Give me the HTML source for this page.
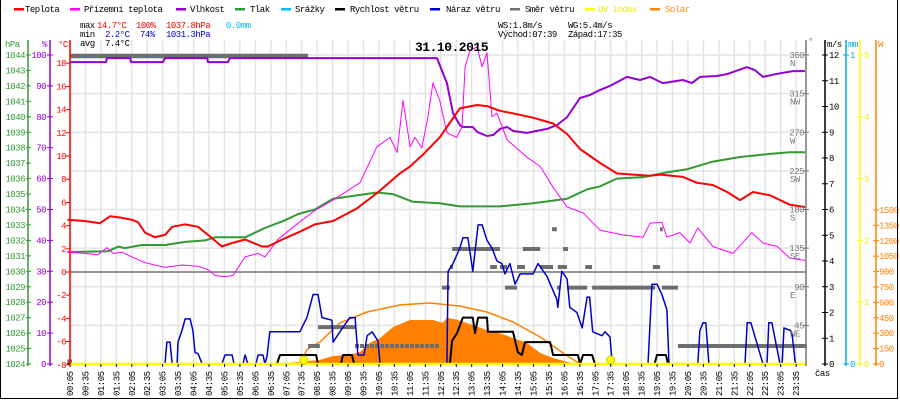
<!DOCTYPE html>
<html><head><meta charset="utf-8"><style>
html,body{margin:0;padding:0;background:#fff}
svg{display:block}
text{font-family:"Liberation Mono",monospace;font-size:9px;letter-spacing:-0.5px}
</style></head><body>
<svg id="chart" width="900" height="400" viewBox="0 0 900 400" xmlns="http://www.w3.org/2000/svg">
<rect x="0" y="0" width="900" height="400" fill="#fff"/>
<g id="grid"></g>
<g id="plot"></g>
<g id="axes"></g>
<g>
 <g><rect x="14" y="8" width="10" height="2.5" fill="#f00"/><text x="25" y="12">Teplota</text></g>
 <g><rect x="70" y="8" width="10" height="2.5" fill="#f0f"/><text x="84" y="12">Přízemní teplota</text></g>
 <g><rect x="176" y="8" width="10" height="2.5" fill="#90c"/><text x="190" y="12">Vlhkost</text></g>
 <g><rect x="235" y="8" width="10" height="2.5" fill="#393"/><text x="250" y="12">Tlak</text></g>
 <g><rect x="281" y="8" width="10" height="2.5" fill="#0bf"/><text x="295" y="12">Srážky</text></g>
 <g><rect x="335" y="8" width="10" height="2.5" fill="#000"/><text x="350" y="12">Rychlost větru</text></g>
 <g><rect x="430" y="8" width="10" height="2.5" fill="#00c"/><text x="446" y="12">Náraz větru</text></g>
 <g><rect x="510" y="8" width="10" height="2.5" fill="#707070"/><text x="525" y="12">Směr větru</text></g>
 <g><rect x="585" y="8" width="10" height="2.5" fill="#ff0"/><text x="598" y="12" fill="#ee0">UV index</text></g>
 <g><rect x="650" y="8" width="10" height="2.5" fill="#f80"/><text x="665" y="12" fill="#f80">Solar</text></g>
</g>
<g>
 <text x="80" y="28">max</text><text x="97" y="28" fill="#f00">14.7°C</text><text x="136" y="28" fill="#f00">100%</text><text x="166" y="28" fill="#f00">1037.8hPa</text><text x="226" y="28" fill="#0bf">0.0mm</text>
 <text x="80" y="37">min</text><text x="105" y="37" fill="#00c">2.2°C</text><text x="140" y="37" fill="#00c">74%</text><text x="166" y="37" fill="#00c">1031.3hPa</text>
 <text x="80" y="46">avg</text><text x="105" y="46">7.4°C</text>
 <text x="498" y="28">WS:1.8m/s</text><text x="568" y="28">WG:5.4m/s</text>
 <text x="498" y="37">Východ:07:39</text><text x="568" y="37">Západ:17:35</text>
</g>
<text x="415" y="51" style="font-size:13px;font-weight:bold;letter-spacing:-0.5px">31.10.2015</text>
<rect x="0.5" y="-1" width="897" height="399.5" fill="none" stroke="#000" stroke-width="1"/>
</svg>
<script>
const xTickLabels=["00:05","00:35","01:05","01:35","02:05","02:35","03:05","03:35","04:05","04:35","05:05","05:35","06:05","06:35","07:05","07:35","08:05","08:35","09:05","09:35","10:05","10:35","11:05","11:35","12:05","12:35","13:05","13:35","14:05","14:35","15:05","15:35","16:05","16:35","17:05","17:35","18:05","18:35","19:05","19:35","20:05","20:35","21:05","21:35","22:05","22:35","23:05","23:35"];
const tempHours=[0,0.57,1.05,1.38,1.7,2.09,2.28,2.51,2.83,3.16,3.39,3.81,4.23,4.55,5.0,5.33,5.75,6.3,6.49,6.95,7.46,8.01,8.6,9.38,10.02,10.76,11.09,11.5,12.05,12.28,12.7,13.26,13.58,14.0,14.55,15.07,15.72,16.17,16.59,17.24,17.78,18.3,18.85,19.18,19.92,20.37,20.89,21.35,21.77,22.19,22.74,23.38,23.87];
const tempValues=[4.5,4.4,4.2,4.8,4.7,4.5,4.3,3.4,3.0,3.2,3.9,4.1,3.9,3.2,2.2,2.5,2.8,2.2,2.2,2.8,3.4,4.1,4.4,5.5,6.8,8.5,9.1,10.1,11.6,12.5,14.1,14.4,14.3,13.9,13.6,13.3,12.8,11.9,10.6,9.4,8.5,8.4,8.3,8.4,8.2,7.7,7.5,6.9,6.2,6.9,6.6,5.8,5.6];
const feelHours=[0,0.57,0.99,1.28,1.48,1.77,2.09,2.51,3.16,3.71,4.23,4.55,4.78,5.1,5.36,5.75,6.17,6.39,6.81,7.46,8.01,8.6,9.47,10.02,10.44,10.67,10.86,11.09,11.25,11.47,11.67,11.83,12.05,12.28,12.6,12.77,12.87,13.03,13.26,13.42,13.58,13.74,13.9,14.23,14.87,15.3,15.72,16.17,16.69,17.24,17.98,18.63,18.85,19.24,19.4,19.82,20.15,20.4,20.89,21.54,22.15,22.51,22.97,23.38,23.87];
const feelValues=[1.7,1.6,1.5,2.1,1.6,1.7,1.3,0.8,0.4,0.6,0.5,0.2,-0.3,-0.4,-0.3,1.3,1.6,1.3,2.8,4.2,5.3,6.2,7.7,10.8,11.6,10.3,14.8,10.8,11.6,10.7,13.4,16.3,14.8,12.0,11.6,12.5,17.7,19.1,19.4,17.7,18.9,13.4,13.7,11.4,9.9,9.1,7.3,5.6,5.1,3.6,3.2,3.0,4.2,4.3,3.0,3.4,2.5,3.8,2.2,1.6,3.4,2.5,2.2,1.2,1.0];
const humHours=[0.08,1.25,1.28,2.03,2.06,3.09,3.16,4.52,4.55,5.2,5.26,11.96,12.28,12.48,12.7,12.8,13.12,13.26,13.58,13.78,14.0,14.23,14.43,14.87,15.52,15.84,16.17,16.59,16.92,17.24,17.56,18.11,18.53,18.85,19.27,19.92,20.21,20.47,21.02,21.38,21.99,22.25,22.51,22.97,23.48,23.87];
const humValues=[97.7,97.7,99.0,99.0,97.7,97.7,99.0,99.0,97.7,97.7,99.0,99.0,90.9,81.2,77.3,76.7,76.7,75.1,73.8,74.1,76.1,76.7,75.4,74.8,76.1,77.3,79.9,86.1,87.1,88.7,90.0,92.9,91.9,92.9,90.9,91.9,90.9,92.9,93.2,93.9,96.1,95.1,92.9,93.9,94.8,94.8];
const presHours=[0,1.32,1.64,1.86,2.41,3.16,3.81,4.46,4.78,5.75,6.39,7.04,7.46,8.01,8.6,10.02,10.53,11.18,12.05,12.7,14.0,15.07,16.17,16.82,17.24,17.78,18.63,19.4,20.05,20.89,21.77,22.74,23.38,23.87];
const presValues=[1031.25,1031.3,1031.6,1031.5,1031.7,1031.7,1031.9,1032.0,1032.2,1032.2,1032.8,1033.3,1033.7,1034.0,1034.7,1035.1,1035.0,1034.5,1034.4,1034.2,1034.2,1034.4,1034.7,1035.3,1035.5,1036.0,1036.1,1036.4,1036.6,1037.1,1037.4,1037.6,1037.7,1037.7];
const gustHours=[0,3.16,3.22,3.32,3.39,3.55,3.58,3.71,3.81,3.97,4.06,4.13,4.23,4.36,5.0,5.1,5.33,5.39,5.68,5.75,5.84,6.1,6.17,6.33,6.39,6.46,6.55,7.52,7.75,7.95,8.11,8.24,8.56,8.6,8.82,9.14,9.31,9.4,9.6,9.7,9.86,10.05,10.12,12.28,12.32,12.48,12.7,12.8,12.96,13.12,13.29,13.42,13.58,13.74,13.9,14.06,14.16,14.32,14.49,14.65,15.07,15.23,15.52,15.84,15.87,16.0,16.17,16.26,16.49,16.66,16.82,16.9,17.0,17.3,17.4,17.56,17.63,18.79,18.92,19.08,19.24,19.4,19.47,20.4,20.47,20.57,20.66,20.76,21.93,22.0,22.12,22.51,22.64,22.7,22.8,23.06,23.13,23.19,23.4,23.46,23.55,23.58];
const gustValues=[0,0,0.85,0.85,0,0,0.85,1.3,1.75,1.75,1.3,0.45,0.4,0,0,0.35,0.35,0,0,0.35,0,0,0.35,0.35,0,0.3,1.25,1.25,1.8,2.7,2.7,1.8,1.7,0.85,1.25,1.8,1.8,0.35,0.35,1.1,1.25,0.9,0,0,3.6,3.9,4.5,4.9,4.9,3.6,5.4,5.4,4.8,4.5,4.0,3.9,3.5,3.9,3.1,3.5,3.5,3.9,3.4,2.5,2.2,3.6,3.3,2.2,2.0,1.4,2.6,2.6,1.25,1.1,1.25,1.05,0,0,3.1,3.1,2.7,2.1,0,0,1.3,1.6,1.6,0,0,1.6,1.6,0,0,1.6,1.6,0,0,1.4,1.3,1.1,0.1,0];
const windHours=[0,6.78,6.88,8.05,8.11,8.85,8.92,9.21,9.28,12.38,12.45,12.61,12.8,13.12,13.19,13.29,13.58,13.61,14.42,14.58,14.71,14.81,15.62,15.72,16.52,16.59,16.69,16.98,17.07,19.0,19.08,19.37,19.44,23.6];
const windValues=[0,0,0.35,0.35,0,0,0.35,0.35,0,0,0.9,1.2,1.8,1.8,1.2,1.8,1.8,1.25,1.25,0.45,0.35,0.85,0.85,0.35,0.35,0,0.35,0.35,0,0,0.35,0.35,0,0];
const solarHours=[6.63,7.52,8.17,8.6,9.14,9.47,9.79,10.12,10.54,11.09,11.83,12.15,12.28,12.6,13.12,13.58,14.0,14.42,14.87,15.3,15.72,16.17,16.59];
const solarValues=[0,20,40,78,90,117,205,253,360,428,428,400,450,430,380,330,300,253,205,107,58,20,0];
const clearSkyHours=[7.52,7.75,8.17,8.82,9.7,10.76,11.73,12.7,13.58,14.42,15.3,16.04,16.59];
const clearSkyValues=[0,140,214,400,506,575,594,565,506,409,263,107,0];
const dirStart=[0.08,0.0,7.79,8.11,9.31,12.12,12.38,12.45,13.68,14.0,14.16,14.55,14.74,15.3,15.68,15.87,15.84,16.04,16.17,16.76,16.98,18.95,19.18,19.24,19.76];
const dirEnd=[7.79,0.15,8.17,9.31,12.06,12.38,12.48,14.0,13.9,14.23,14.55,14.81,15.3,15.72,15.84,16.17,15.94,16.2,16.82,16.98,19.02,19.18,19.27,19.76,23.93];
const dirDeg=[360,3,21,43,21,89,113,134,113,113,89,113,134,113,157,113,89,134,89,113,89,113,157,89,21];
const sunEvents=[7.65,17.58];
const hpaTicks=[1024,1025,1026,1027,1028,1029,1030,1031,1032,1033,1034,1035,1036,1037,1038,1039,1040,1041,1042,1043,1044];
const pctTicks=[0,10,20,30,40,50,60,70,80,90,100];
const tempTicks=[-8,-6,-4,-2,0,2,4,6,8,10,12,14,16,18];
const dirTicks=[45,90,135,180,225,270,315,360];
const dirNames=["NE","E","SE","S","SW","W","NW","N"];
const msTicks=[0,1,2,3,4,5,6,7,8,9,10,11,12];
const uvTicks=[0,1,2,3,4,5];
const solarTicks=[0,150,300,450,600,750,900,1050,1200,1350,1500];

const NS='http://www.w3.org/2000/svg';
const X=h=>67.4+h*30.9;
const yT=t=>272-t*11.6;
const yP=p=>364-p*3.09;
const yH=p=>364-(p-1024)*15.45;
const yW=v=>364-v*25.75;
const yS=w=>364-w*0.1027;
const yD=d=>364-d*0.8583;
const yU=u=>364-u*61.8;
function mk(tag,attrs,parent){const e=document.createElementNS(NS,tag);for(const k in attrs)e.setAttribute(k,attrs[k]);parent.appendChild(e);return e;}
const grid=document.getElementById('grid'),plot=document.getElementById('plot'),axes=document.getElementById('axes');

xTickLabels.forEach((l,i)=>{const x=X((5+30*i)/60);
 const g=mk('line',{x1:x,x2:x,y1:40,y2:364,stroke:'#e4e4e4','stroke-width':1.5},grid);
 
 
 mk('line',{x1:x,x2:x,y1:364,y2:367,stroke:'#000'},axes);
 const tx=mk('text',{transform:`translate(${x+3},396) rotate(-90)`},axes);
 tx.textContent=l;
 
 
});
dirTicks.forEach(d=>{const y=yD(d);
 const g=mk('line',{x1:70,x2:806,y1:y,y2:y,stroke:'#e4e4e4','stroke-width':1.5},grid);
 
 
});
const zl=mk('line',{x1:70,x2:806,y1:yT(0),y2:yT(0),stroke:'#777','stroke-width':1.5},grid);



function poly(hs,vs,fy,color,w,name){
 const pts=hs.map((h,i)=>X(h).toFixed(1)+','+fy(vs[i]).toFixed(1)).join(' ');
 const p=mk('polyline',{points:pts,fill:'none',stroke:color,'stroke-width':w,'stroke-linejoin':'round'},plot);
 
 
}
{const pts=solarHours.map((h,i)=>X(h).toFixed(1)+','+yS(solarValues[i]).toFixed(1));
 pts.push(X(solarHours[solarHours.length-1]).toFixed(1)+',364');pts.unshift(X(solarHours[0]).toFixed(1)+',364');
 const p=mk('polygon',{points:pts.join(' '),fill:'#ff8000'},plot);
 
 }
poly(clearSkyHours,clearSkyValues,yS,'#ff8000',1.5,'solar-theoretical-line');
dirDeg.forEach((d,i)=>{const y=yD(d);const top=d===360;
 const r=mk('line',{x1:X(dirStart[i]),x2:X(dirEnd[i]),y1:top?56:y,y2:top?56:y,stroke:'#6e6e6e','stroke-width':top?4.5:4},plot);
 if(dirDeg[i]===21&&dirStart[i]>9&&dirStart[i]<10)r.setAttribute('stroke-dasharray','4 1');
 
 
});
poly(presHours,presValues,yH,'#339933',2,'pressure-line');
poly(humHours,humValues,yP,'#9400d3',2,'humidity-line');
poly(feelHours,feelValues,yT,'#ff00ff',1,'feels-like-line');
poly(tempHours,tempValues,yT,'#ff0000',2,'temperature-line');
poly(gustHours,gustValues,yW,'#0000cc',1.5,'wind-gust-line');
poly(windHours,windValues,yW,'#000',2,'wind-speed-line');
{const l=mk('line',{x1:70,x2:806,y1:364,y2:364,stroke:'#ff0','stroke-width':2.5},plot);
 
 }
sunEvents.forEach(h=>{const c=mk('circle',{cx:X(h),cy:360,r:4,fill:'#ff0',stroke:'#cc0','stroke-width':1},plot);
 
 });

function axis(x,color,name){const l=mk('line',{x1:x,x2:x,y1:40,y2:366,stroke:color,'stroke-width':1.5},axes);
 
 }
function lab(x,y,txt,color,anchor,name){const t=mk('text',{x:x,y:y,fill:color,'text-anchor':anchor||'start'},axes);t.textContent=txt;
 
 }
axis(28,'#339933','hpa-axis');axis(50,'#9400d3','percent-axis');axis(70,'#ff0000','temp-axis');
axis(806,'#777','direction-axis');axis(825,'#000','wind-axis');axis(846,'#00aaee','rain-axis');axis(860,'#ff0','uv-axis');axis(876,'#ff8000','solar-axis');
lab(5,47,'hPa','#339933','start','hpa-axis-title');lab(42,47,'%','#9400d3','start','percent-axis-title');lab(58,47,'°C','#f00','start','temp-axis-title');
lab(808,44,'°','#777','start','direction-axis-title');lab(827,47,'m/s','#000','start','wind-axis-title');lab(848,47,'mm','#00aaee','start','rain-axis-title');lab(878,47,'W','#ff8000','start','solar-axis-title');
lab(815,376,'čas','#000','start','time-axis-title');
hpaTicks.forEach(p=>{const y=yH(p);mk('line',{x1:26,x2:31,y1:y,y2:y,stroke:'#339933'},axes);lab(25,y+3,String(p),'#339933','end','hpa-tick-label');});
pctTicks.forEach(p=>{const y=yP(p);mk('line',{x1:47,x2:53,y1:y,y2:y,stroke:'#9400d3'},axes);lab(46,y+3,String(p),'#9400d3','end','percent-tick-label');});
tempTicks.forEach(t=>{const y=yT(t);mk('line',{x1:66,x2:70,y1:y,y2:y,stroke:'#f00'},axes);lab(66,y+3,String(t),'#f00','end','temp-tick-label');});
dirTicks.forEach((d,i)=>{const y=yD(d);mk('line',{x1:803,x2:809,y1:y,y2:y,stroke:'#777'},axes);lab(804,y+3,String(d),'#777','end','direction-tick-label');lab(790,y+11,dirNames[i],'#777','start','direction-name-label');});
msTicks.forEach(v=>{const y=yW(v);mk('line',{x1:822,x2:828,y1:y,y2:y,stroke:'#000'},axes);lab(829,y+3,String(v),'#000','start','wind-tick-label');});
[0,1].forEach(v=>{const y=v?55:364;mk('line',{x1:843,x2:849,y1:y,y2:y,stroke:'#00aaee'},axes);lab(850,y+3,String(v),'#00aaee','start','rain-tick-label');});
uvTicks.forEach(u=>{const y=yU(u);mk('line',{x1:857,x2:863,y1:y,y2:y,stroke:'#ff0'},axes);lab(864,y+3,String(u),'#ee0','start','uv-tick-label');});
solarTicks.forEach(w=>{const y=yS(w);mk('line',{x1:873,x2:879,y1:y,y2:y,stroke:'#ff8000'},axes);lab(879,y+3,String(w),'#ff8000','start','solar-tick-label');});
</script>
</body></html>
